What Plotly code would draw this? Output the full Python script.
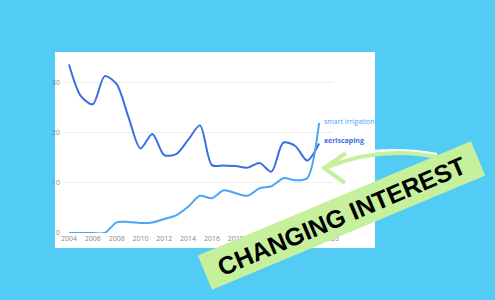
import plotly.graph_objects as go
import math

years = list(range(2004, 2026))
xeriscaping = [33.5, 27.2, 25.6, 31.2, 29.6, 23.0, 16.8, 19.7, 15.5, 15.7, 18.5, 21.4,
               13.5, 13.4, 13.3, 13.0, 13.9, 12.2, 18.0, 17.3, 14.4, 17.8]
smart_irrigation = [0, 0, 0, 0, 2.1, 2.2, 2.0, 2.1, 2.8, 3.5, 5.2, 7.4,
                    6.9, 8.5, 7.9, 7.4, 8.9, 9.3, 10.9, 10.5, 10.9, 21.9]
x_ticks = list(range(2004, 2027, 2))
y_ticks = [0, 10, 20, 30]
banner_text = "CHANGING INTEREST"

BG = "#52CCF5"
DARK = "#3A6EE2"
LIGHT = "#4AA6F7"
GREEN = "#C6F09B"

# pixel layout helpers
L, R, T, B = 64, 333, 57, 233
W, H = 495, 300
def px(x):
    return (x - L) / (R - L)
def py(y):
    return (B - y) / (B - T)

fig = go.Figure()
fig.add_trace(go.Scatter(x=years, y=xeriscaping, mode="lines", line=dict(color=DARK, width=2, shape="spline", smoothing=0.8),
                         name="xeriscaping", hoverinfo="skip"))
fig.add_trace(go.Scatter(x=years, y=smart_irrigation, mode="lines", line=dict(color=LIGHT, width=2, shape="spline", smoothing=0.8),
                         name="smart irrigation", hoverinfo="skip"))

shapes = []
# white chart panel
shapes.append(dict(type="rect", xref="paper", yref="paper", x0=px(55), x1=px(375), y0=py(248), y1=py(52),
                   fillcolor="white", line=dict(width=0), layer="below"))

# arrow
def P(x, y):
    return f"{px(x):.5f},{py(y):.5f}"
shapes.append(dict(type="path", xref="paper", yref="paper",
                   path=f"M{P(372,151.5)} Q{P(406,148.5)} {P(437,154.5)}",
                   line=dict(color="white", width=3), layer="above"))
shapes.append(dict(type="path", xref="paper", yref="paper",
                   path=f"M{P(437,157)} Q{P(380,145)} {P(325,168)}",
                   line=dict(color=GREEN, width=4), layer="above"))
shapes.append(dict(type="path", xref="paper", yref="paper",
                   path=f"M{P(346,153)} L{P(324,168)} L{P(345,183)}",
                   line=dict(color=GREEN, width=4), layer="above"))

# banner
cx, cy, bw, bh, ang = 341.5, 215.5, 296, 37, math.radians(22.7)
ux, uy = math.cos(ang), -math.sin(ang)
vx, vy = math.sin(ang), math.cos(ang)
pts = []
for sx, sy in [(-1, -1), (1, -1), (1, 1), (-1, 1)]:
    pts.append((cx + sx * bw / 2 * ux + sy * bh / 2 * vx, cy + sx * bw / 2 * uy + sy * bh / 2 * vy))
path = "M" + " L".join(P(a, b) for a, b in pts) + " Z"
shapes.append(dict(type="path", xref="paper", yref="paper", path=path,
                   fillcolor=GREEN, line=dict(width=0), layer="above"))

annotations = [
    dict(x=2025.25, y=smart_irrigation[-1] + 0.3, xref="x", yref="y", text="smart irrigation", showarrow=False,
         xanchor="left", yanchor="middle", font=dict(family="Open Sans", size=7, color=LIGHT)),
    dict(x=2025.25, y=xeriscaping[-1] + 0.6, xref="x", yref="y", text="<b>xeriscaping</b>", showarrow=False,
         xanchor="left", yanchor="middle", font=dict(family="Open Sans", size=7, color=DARK)),
    dict(x=px(341.5), y=py(215.5), xref="paper", yref="paper", text=f"<b>{banner_text}</b>", showarrow=False,
         textangle=-23, xanchor="center", yanchor="middle",
         font=dict(family="Liberation Sans", size=25, color="black")),
]

fig.update_layout(
    width=W, height=H, margin=dict(l=L, r=W - R, t=T, b=H - B),
    paper_bgcolor=BG, plot_bgcolor="rgba(0,0,0,0)",
    showlegend=False, shapes=shapes, annotations=annotations,
    font=dict(family="Open Sans", size=7, color="#888"),
)
px_per_year = (331 - 69) / 22
fig.update_xaxes(range=[2004 - 5 / px_per_year, 2026 + 2 / px_per_year], tickvals=x_ticks,
                 showgrid=False, zeroline=False, showline=False, ticks="",
                 tickfont=dict(size=7, color="#888"))
fig.update_yaxes(range=[0, 35], tickvals=y_ticks, showgrid=True, gridcolor="#EEEEEE", gridwidth=1,
                 zeroline=False, showline=False, ticks="", ticklabelstandoff=3,
                 tickfont=dict(size=7, color="#888"))
fig.write_html("out.html")
